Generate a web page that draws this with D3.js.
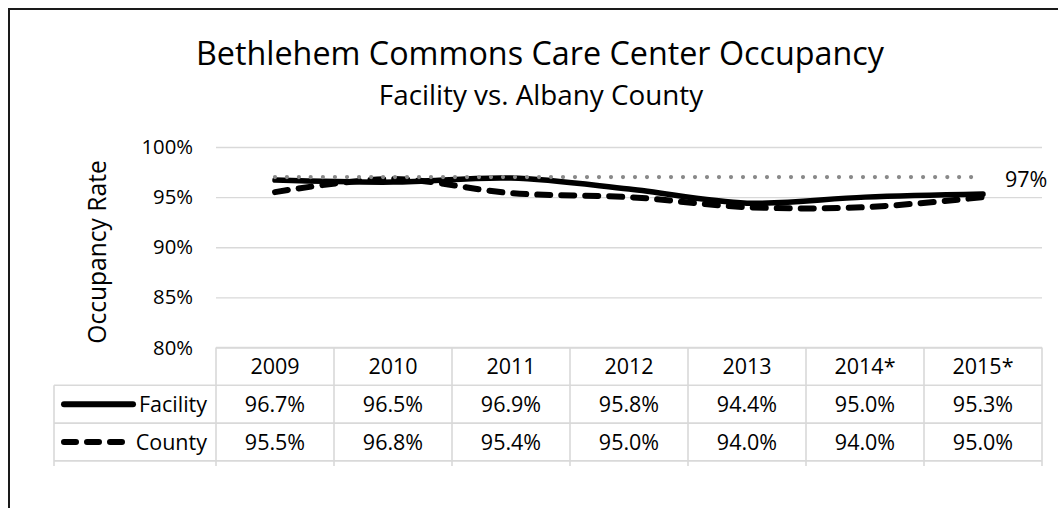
<!DOCTYPE html>
<html>
<head>
<meta charset="utf-8">
<script src="https://cdn.jsdelivr.net/npm/d3@7"></script>
<style>
  html, body { margin: 0; background: #fff; overflow: hidden; }
  svg { display: block; font-family: "Open Sans", "Noto Sans", sans-serif; }
</style>
</head>
<body>
<div id="chart"></div>
<script>
const years = ["2009", "2010", "2011", "2012", "2013", "2014*", "2015*"];
const facility = [96.7, 96.5, 96.9, 95.8, 94.4, 95.0, 95.3];
const county = [95.5, 96.8, 95.4, 95.0, 94.0, 94.0, 95.0];
const target = [97, 97, 97, 97, 97, 97, 97];
const yTicks = [80, 85, 90, 95, 100];

const width = 1058, height = 508;
const margin = {top: 147, right: 16, bottom: 160, left: 216};
const cellFont = 21.5;

const svg = d3.select("#chart").append("svg")
  .attr("width", width)
  .attr("height", height);

// outer chart border: only the top and left edges fall inside the picture
svg.append("path")
  .attr("d", `M9,${height} V9 H${width}`)
  .attr("fill", "none")
  .attr("stroke", "#1a1a1a")
  .attr("stroke-width", 2);

const x = d3.scaleBand()
  .domain(years)
  .range([margin.left, width - margin.right]);

const y = d3.scaleLinear()
  .domain([80, 100])
  .range([height - margin.bottom - 0.5, margin.top]);

// title
svg.append("text")
  .attr("x", 540).attr("y", 65)
  .attr("text-anchor", "middle")
  .attr("font-size", 32.3)
  .text("Bethlehem Commons Care Center Occupancy");

svg.append("text")
  .attr("x", 541).attr("y", 105)
  .attr("text-anchor", "middle")
  .attr("font-size", 27.8)
  .text("Facility vs. Albany County");

// gridlines
svg.append("g")
  .attr("transform", `translate(${margin.left},0)`)
  .call(d3.axisLeft(y).tickValues(yTicks).tickSize(-(x.range()[1] - x.range()[0])).tickFormat(""))
  .call(g => g.select(".domain").remove())
  .call(g => g.selectAll("line").attr("stroke", "#d9d9d9").attr("stroke-width", 1.3));

// y axis labels
svg.append("g")
  .attr("transform", `translate(${margin.left},0)`)
  .call(d3.axisLeft(y).tickValues(yTicks).tickSize(0).tickPadding(23).tickFormat(d => d + "%"))
  .call(g => g.select(".domain").remove())
  .call(g => g.selectAll("text")
    .attr("font-family", "Open Sans, Noto Sans, sans-serif")
    .attr("font-size", 20.3)
    .attr("fill", "#000"));

svg.append("text")
  .attr("transform", "translate(106,252) rotate(-90)")
  .attr("text-anchor", "middle")
  .attr("font-size", 24.6)
  .text("Occupancy Rate");

// lines
const line = d3.line()
  .x((d, i) => x(years[i]) + x.bandwidth() / 2)
  .y(d => y(d))
  .curve(d3.curveCatmullRom.alpha(0));

svg.append("path")
  .datum(county)
  .attr("fill", "none")
  .attr("stroke", "#000")
  .attr("stroke-width", 6)
  .attr("stroke-linecap", "round")
  .attr("stroke-dasharray", "13,11")
  .attr("d", line);

svg.append("path")
  .datum(facility)
  .attr("fill", "none")
  .attr("stroke", "#000")
  .attr("stroke-width", 5.5)
  .attr("stroke-linecap", "round")
  .attr("d", line);

svg.append("path")
  .datum(target)
  .attr("fill", "none")
  .attr("stroke", "#898989")
  .attr("stroke-width", 4.2)
  .attr("stroke-linecap", "round")
  .attr("stroke-dasharray", "0,12")
  .attr("d", line);

svg.append("text")
  .attr("x", x(years[6]) + x.bandwidth() / 2 + 22)
  .attr("y", y(target[6]) + 10)
  .attr("font-size", cellFont)
  .text(target[6] + "%");

// data table
const rowTop = y(80);
const rowH = 37.8;
const tableLeft = 54;
const gridColor = "#d9d9d9";
const table = svg.append("g")
  .attr("stroke", gridColor)
  .attr("stroke-width", 1.6);

// horizontal lines
table.append("line")
  .attr("x1", x.range()[0]).attr("x2", x.range()[1])
  .attr("y1", rowTop).attr("y2", rowTop);
[1, 2, 3].forEach(r => {
  table.append("line")
    .attr("x1", tableLeft).attr("x2", x.range()[1])
    .attr("y1", rowTop + r * rowH).attr("y2", rowTop + r * rowH);
});

// vertical lines
const stubBottom = rowTop + 3 * rowH + 5;
years.forEach(yr => {
  table.append("line")
    .attr("x1", x(yr)).attr("x2", x(yr))
    .attr("y1", rowTop).attr("y2", stubBottom);
});
table.append("line")
  .attr("x1", x.range()[1]).attr("x2", x.range()[1])
  .attr("y1", rowTop).attr("y2", stubBottom);
table.append("line")
  .attr("x1", tableLeft).attr("x2", tableLeft)
  .attr("y1", rowTop + rowH).attr("y2", stubBottom);

const cellText = svg.append("g")
  .attr("font-size", cellFont)
  .attr("text-anchor", "middle");

cellText.selectAll(".yr")
  .data(years)
  .join("text")
  .attr("x", d => x(d) + x.bandwidth() / 2)
  .attr("y", rowTop + rowH / 2 + 7.5)
  .text(d => d);

[facility, county].forEach((series, r) => {
  cellText.selectAll(".v" + r)
    .data(series)
    .join("text")
    .attr("x", (d, i) => x(years[i]) + x.bandwidth() / 2)
    .attr("y", rowTop + (r + 1.5) * rowH + 7.5)
    .text(d => d.toFixed(1) + "%");
});

// legend keys
const legendRows = [
  {name: "Facility", dash: null},
  {name: "County", dash: "12,11"}
];
legendRows.forEach((lr, r) => {
  const cy = rowTop + (r + 1.5) * rowH;
  svg.append("line")
    .attr("x1", 64).attr("x2", lr.dash ? 128 : 133)
    .attr("y1", cy).attr("y2", cy)
    .attr("stroke", "#000")
    .attr("stroke-width", 6)
    .attr("stroke-linecap", "round")
    .attr("stroke-dasharray", lr.dash);
  svg.append("text")
    .attr("x", 207)
    .attr("y", cy + 7.5)
    .attr("text-anchor", "end")
    .attr("font-size", cellFont)
    .text(lr.name);
});
</script>
</body>
</html>
